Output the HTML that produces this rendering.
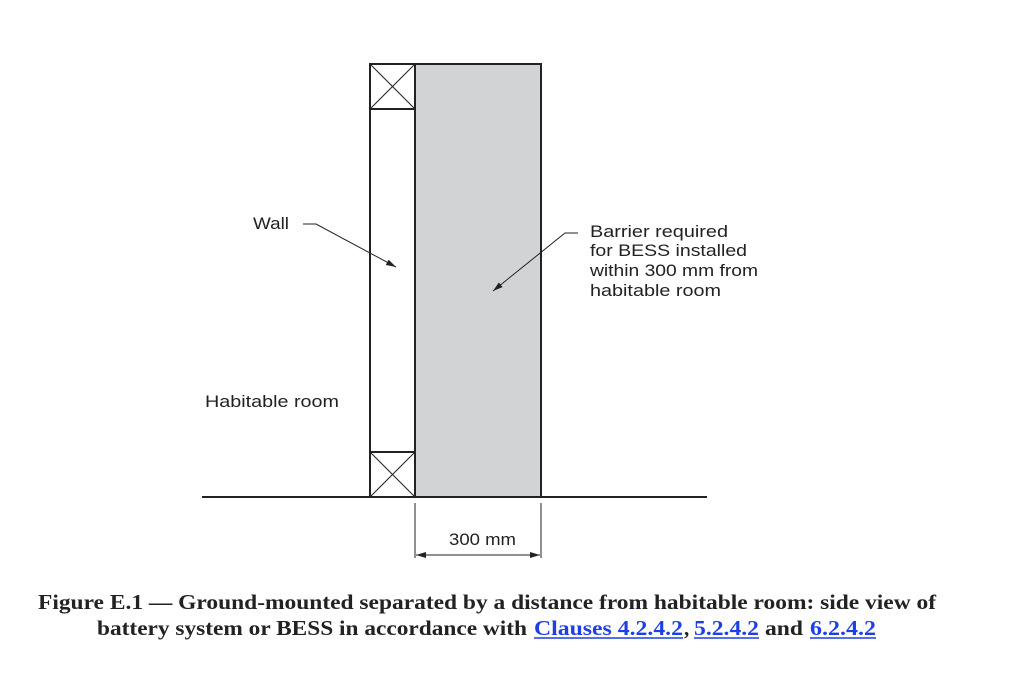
<!DOCTYPE html>
<html><head><meta charset="utf-8"><style>
html,body{margin:0;padding:0;background:#fff;}
svg{display:block;}
.s{font-family:"Liberation Sans",sans-serif;font-size:17px;fill:#222;}
.c{font-family:"Liberation Serif",serif;font-weight:bold;font-size:21px;fill:#222;}
.l{fill:#1f3fe6;}
</style></head><body>
<svg width="1018" height="698" viewBox="0 0 1018 698" xmlns="http://www.w3.org/2000/svg">
<defs>
<marker id="a" viewBox="0 0 10 6" refX="10" refY="3" markerWidth="10" markerHeight="6" orient="auto" markerUnits="userSpaceOnUse"><path d="M0,0 L10,3 L0,6 Z" fill="#222"/></marker>
</defs>
<rect x="415" y="64" width="126" height="433" fill="#d2d3d5" stroke="#222" stroke-width="2"/>
<rect x="370" y="64" width="45" height="433" fill="#fff" stroke="#222" stroke-width="2"/>
<line x1="370" y1="109" x2="415" y2="109" stroke="#222" stroke-width="2"/>
<line x1="370" y1="452" x2="415" y2="452" stroke="#222" stroke-width="2"/>
<path d="M370,64 L415,109 M415,64 L370,109 M370,452 L415,497 M415,452 L370,497" stroke="#222" stroke-width="1"/>
<line x1="202" y1="497" x2="707" y2="497" stroke="#222" stroke-width="2"/>
<line x1="415" y1="503" x2="415" y2="558" stroke="#222" stroke-width="1"/>
<line x1="541" y1="503" x2="541" y2="558" stroke="#222" stroke-width="1"/>
<line x1="480" y1="555" x2="416" y2="555" stroke="#222" stroke-width="1" marker-end="url(#a)"/>
<line x1="480" y1="555" x2="540" y2="555" stroke="#222" stroke-width="1" marker-end="url(#a)"/>
<polyline points="303,224 316,224 396,267" fill="none" stroke="#222" stroke-width="1" marker-end="url(#a)"/>
<polyline points="578,233 565,233 493,291" fill="none" stroke="#222" stroke-width="1" marker-end="url(#a)"/>
<text class="s" x="253" y="229" textLength="36" lengthAdjust="spacingAndGlyphs">Wall</text>
<text class="s" x="590" y="237" textLength="138" lengthAdjust="spacingAndGlyphs">Barrier required</text>
<text class="s" x="590" y="256" textLength="157" lengthAdjust="spacingAndGlyphs">for BESS installed</text>
<text class="s" x="590" y="276" textLength="168" lengthAdjust="spacingAndGlyphs">within 300 mm from</text>
<text class="s" x="590" y="296" textLength="131" lengthAdjust="spacingAndGlyphs">habitable room</text>
<text class="s" x="205" y="407" textLength="134" lengthAdjust="spacingAndGlyphs">Habitable room</text>
<text class="s" x="449" y="545" textLength="67" lengthAdjust="spacingAndGlyphs">300 mm</text>
<text class="c" x="38" y="609" textLength="898" lengthAdjust="spacingAndGlyphs">Figure E.1 — Ground-mounted separated by a distance from habitable room: side view of</text>
<text class="c" x="97" y="635" textLength="430" lengthAdjust="spacingAndGlyphs">battery system or BESS in accordance with</text>
<text class="c l" x="534" y="635" textLength="149" lengthAdjust="spacingAndGlyphs">Clauses 4.2.4.2</text>
<text class="c" x="684" y="635">,</text>
<text class="c l" x="694" y="635" textLength="65" lengthAdjust="spacingAndGlyphs">5.2.4.2</text>
<text class="c" x="765" y="635" textLength="38" lengthAdjust="spacingAndGlyphs">and</text>
<text class="c l" x="810" y="635" textLength="66" lengthAdjust="spacingAndGlyphs">6.2.4.2</text>
<line x1="534" y1="638" x2="683" y2="638" stroke="#1f3fe6" stroke-width="1.5"/>
<line x1="694" y1="638" x2="759" y2="638" stroke="#1f3fe6" stroke-width="1.5"/>
<line x1="810" y1="638" x2="876" y2="638" stroke="#1f3fe6" stroke-width="1.5"/>
</svg>
</body></html>
